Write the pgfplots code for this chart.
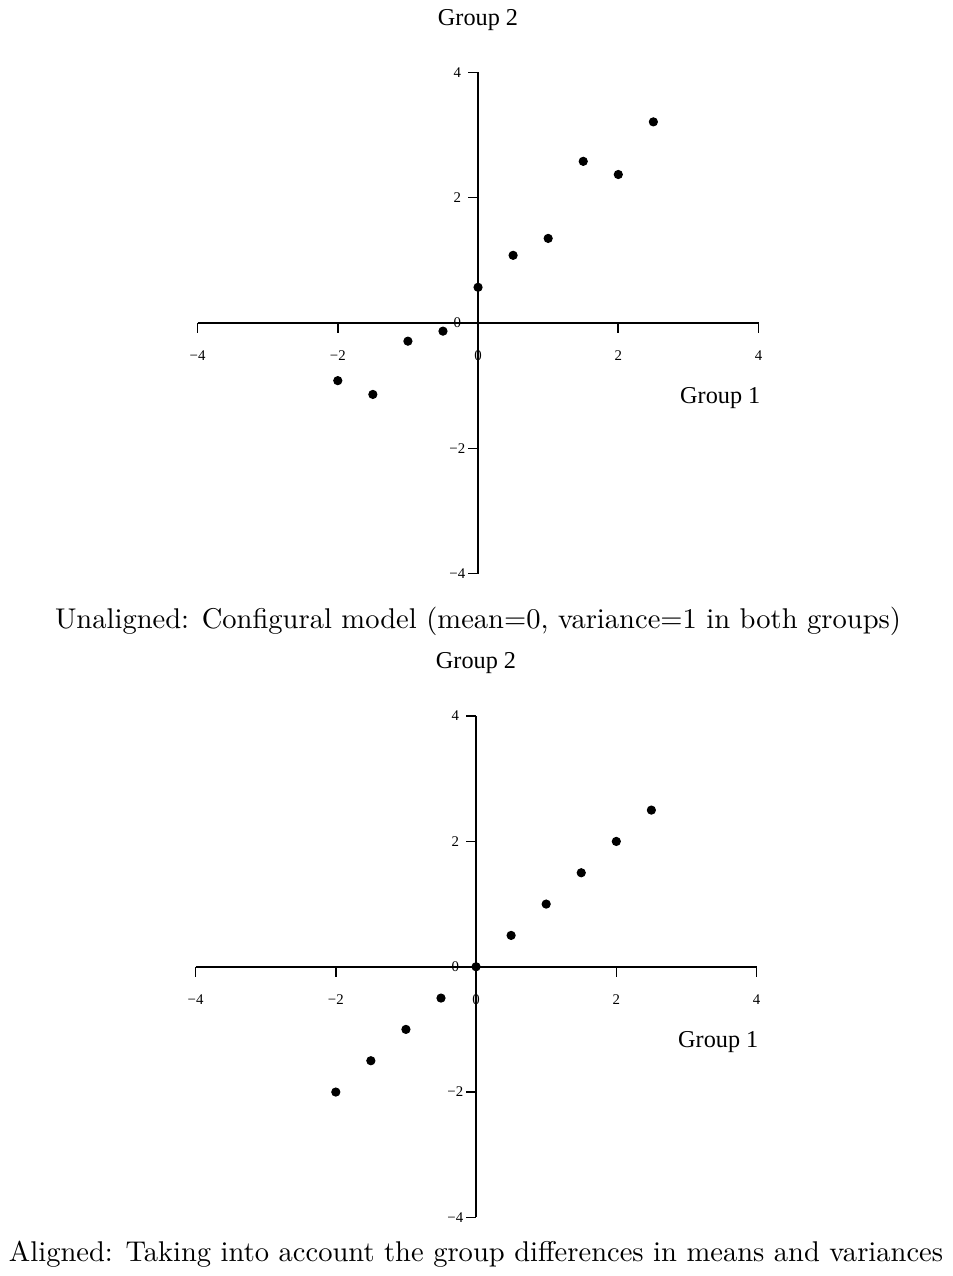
\documentclass[border=0pt]{standalone}
\usepackage{fontspec}
\usepackage{pgfplots}
\pgfplotsset{compat=1.18}
\newfontfamily\tnr{Liberation Serif}

\pgfplotsset{
  panel/.style={
    scale only axis,
    width=208.3pt, height=186.1pt,
    xmin=-4, xmax=4, ymin=-4, ymax=4,
    axis lines=middle,
    axis line style={-, line width=0.6pt},
    xtick={-4,-2,0,2,4}, ytick={-4,-2,0,2,4},
    xticklabels={−4,−2,0,2,4}, yticklabels={−4,−2,0,2,4},
    hide obscured x ticks=false, hide obscured y ticks=false,
    major tick length=3.7pt,
    tick align=outside,
    tick style={line width=0.6pt, black},
    tick label style={font=\tnr\fontsize{5.5}{6}\selectfont},
    xticklabel style={anchor=center, yshift=-8.5pt},
    yticklabel style={anchor=center, xshift=-4pt},
    clip=false,
  },
}

\begin{document}
\begin{tikzpicture}
  % unaligned
  \begin{axis}[panel]
    \addplot[only marks, mark=*, mark size=1.5pt, black] coordinates {
      (-2.0,-0.92) (-1.5,-1.14) (-1.0,-0.29) (-0.5,-0.13) (0.0,0.57)
      (0.5,1.08) (1.0,1.35) (1.5,2.58) (2.0,2.37) (2.5,3.21)
    };
    \node[font=\tnr\fontsize{9}{10}\selectfont] at (axis cs:0,4) [yshift=19.6pt] {Group 2};
    \node[font=\tnr\fontsize{9}{10}\selectfont, anchor=east] at (axis cs:4,0) [yshift=-28pt, xshift=4.2pt] {Group 1};
    \node[font=\fontsize{10.6}{12}\selectfont] at (axis cs:0,0) [yshift=-110.6pt] {Unaligned: Configural model (mean=0, variance=1 in both groups)};
  \end{axis}
  % aligned
  \begin{axis}[panel, at={(-0.74pt,-239pt)}]
    \addplot[only marks, mark=*, mark size=1.5pt, black] coordinates {
      (-2.0,-2.0) (-1.5,-1.5) (-1.0,-1.0) (-0.5,-0.5) (0.0,0.0)
      (0.5,0.5) (1.0,1.0) (1.5,1.5) (2.0,2.0) (2.5,2.5)
    };
    \node[font=\tnr\fontsize{9}{10}\selectfont] at (axis cs:0,4) [yshift=19.6pt] {Group 2};
    \node[font=\tnr\fontsize{9}{10}\selectfont, anchor=east] at (axis cs:4,0) [yshift=-28pt, xshift=4.2pt] {Group 1};
    \node[font=\fontsize{10.6}{12}\selectfont] at (axis cs:0,0) [yshift=-106.6pt] {Aligned: Taking into account the group differences in means and variances};
  \end{axis}
\end{tikzpicture}
\end{document}
